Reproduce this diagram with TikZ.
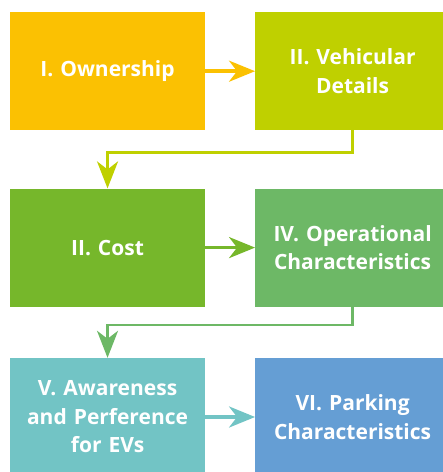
\documentclass[tikz,border=0pt]{standalone}
\usepackage{fontspec}
\setmainfont{Open Sans}
\usepackage{tikz}
\usetikzlibrary{arrows.meta, positioning}
\usepackage{xcolor}
\definecolor{ownclr}{HTML}{FBC102}
\definecolor{vehclr}{HTML}{BFD000}
\definecolor{costclr}{HTML}{76B72B}
\definecolor{operclr}{HTML}{6DB866}
\definecolor{awareclr}{HTML}{72C4C5}
\definecolor{parkclr}{HTML}{659ED4}
\tikzset{
  % category boxes
  catbox/.style={
    rectangle, draw=none,
    minimum width=194pt, minimum height=118pt,
    text width=188pt, align=center, text=white,
    font=\fontsize{21}{28.5}\selectfont\bfseries
  },
  flowarrow/.style={
    -{Stealth[length=26pt, width=21pt, inset=8pt]}, line width=3.5pt
  },
  turnarrow/.style={
    -{Stealth[length=27pt, width=21pt, inset=8pt]}, line width=2.5pt
  }
}

\begin{document}
\begin{tikzpicture}[x=1pt, y=1pt, node distance=58pt and 50pt]
  \useasboundingbox (0,0) rectangle (443,-472);

  \node[catbox, fill=ownclr, anchor=north west] (own) at (10,-12) {I. Ownership};
  \node[catbox, fill=vehclr, right=50pt of own] (veh) {II. Vehicular\\Details};
  \node[catbox, fill=costclr, below=58pt of own] (cost) {II. Cost};
  \node[catbox, fill=operclr, right=50pt of cost] (oper) {IV. Operational\\Characteristics};
  \node[catbox, fill=awareclr, below=51pt of cost] (aware) {V. Awareness\\and Perference\\for EVs};
  \node[catbox, fill=parkclr, right=50pt of aware] (park) {VI. Parking\\Characteristics};

  \draw[flowarrow, draw=ownclr] (own) -- (veh);
  \draw[turnarrow, draw=vehclr] (veh.south) -- ++(0,-22) -| (cost.north);
  \draw[flowarrow, draw=costclr] (cost) -- (oper);
  \draw[turnarrow, draw=operclr] (oper.south) -- ++(0,-18) -| (aware.north);
  \draw[flowarrow, draw=awareclr] (aware) -- (park);

\end{tikzpicture}
\end{document}
